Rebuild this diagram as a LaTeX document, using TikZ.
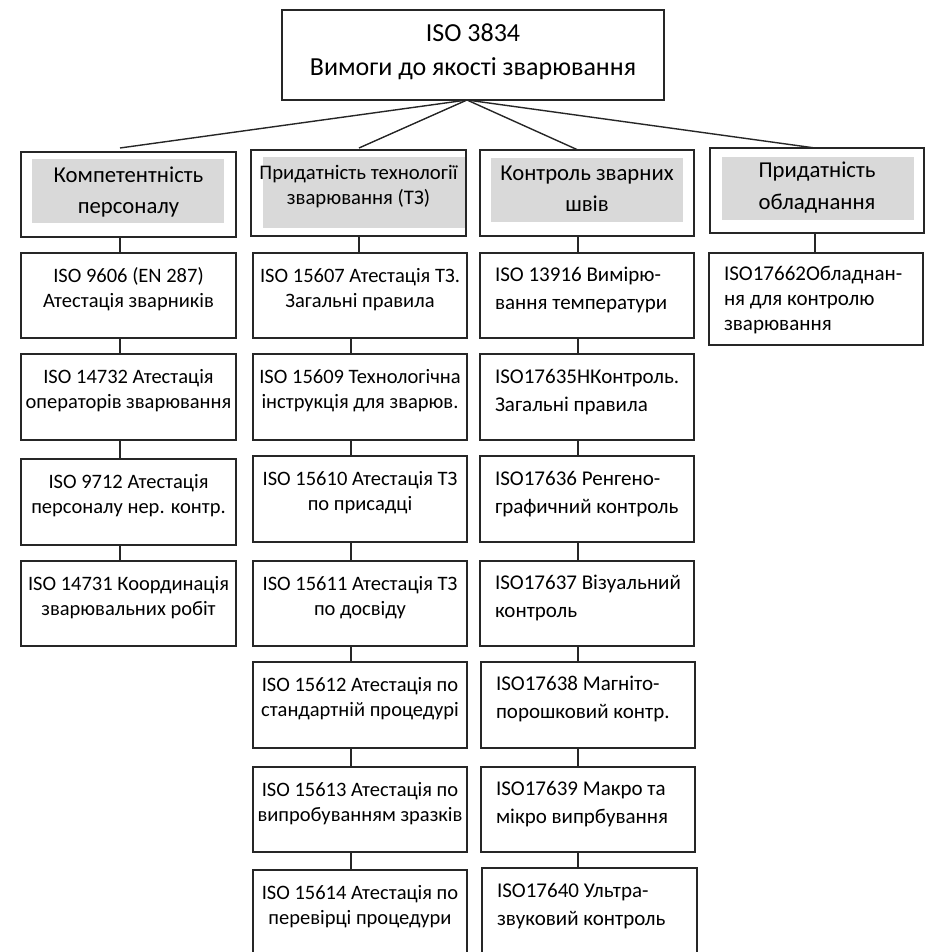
\documentclass[tikz,border=0pt]{standalone}
\usepackage{fontspec}
\setmainfont{Carlito}
\newcommand\bxt[7]{\parbox[c][#1pt][t]{#2pt}{\fontsize{#4}{#5}\selectfont#3\rule{0pt}{#6pt}#7}}
\newcommand\cc{\centering}
\newcommand\lf{\raggedright\leftskip=15pt\relax}
\tikzset{
  bx/.style={draw=black!85, line width=1.6pt, inner sep=0pt, outer sep=0pt, anchor=north west},
  conn/.style={draw=black!85, line width=1.4pt},
  graybg/.style={fill=black!15, draw=none}
}
\begin{document}
\begin{tikzpicture}[x=1pt,y=-1pt]
\useasboundingbox (0,0) rectangle (928,952);
\clip (0,0) rectangle (928,952);
% gray header backgrounds
\fill[graybg] (32,159) rectangle (224,223);
\fill[graybg] (263,157) rectangle (465,228);
\fill[graybg] (491,158) rectangle (683,222);
\fill[graybg] (722,157) rectangle (914,220);
% top
\node[bx] (top) at (282,10) {\bxt{90}{382}{\cc}{26}{34}{32}{ISO 3834\\Вимоги до якості зварювання}};
% headers
\node[bx] (h1) at (21,152) {\bxt{85}{215}{\cc}{22.7}{31}{30}{Компетентність\\персоналу}};
\node[bx] (h2) at (251,150) {\bxt{86}{215}{\cc}{20.7}{26}{29}{Придатність технології\\зварювання (ТЗ)}};
\node[bx] (h3) at (480,150) {\bxt{86}{214}{\cc}{22.7}{32}{30}{Контроль зварних\\швів}};
\node[bx] (h4) at (710,148) {\bxt{85}{214}{\cc}{22.7}{32}{30}{Придатність\\обладнання}};
% column 1
\node[bx] (a1) at (21,253) {\bxt{85}{215}{\cc}{20.5}{25}{29}{ISO 9606 (EN 287)\\Атестація зварників}};
\node[bx] (a2) at (21,354) {\bxt{86}{215}{\cc}{20.5}{25}{29}{ISO 14732 Атестація\\операторів зварювання}};
\node[bx] (a3) at (21,459) {\bxt{86}{215}{\cc}{20.5}{25}{29}{ISO 9712 Атестація\\персоналу нер. контр.}};
\node[bx] (a4) at (21,561) {\bxt{85}{215}{\cc}{20.5}{25}{29}{ISO 14731 Координація\\зварювальних робіт}};
% column 2
\node[bx] (b1) at (253,253) {\bxt{85}{214}{\cc}{20.5}{25}{29}{ISO 15607 Атестація ТЗ.\\Загальні правила}};
\node[bx] (b2) at (253,354) {\bxt{86}{214}{\cc}{20.5}{25}{29}{ISO 15609 Технологічна\\інструкція для зварюв.}};
\node[bx] (b3) at (253,456) {\bxt{86}{214}{\cc}{20.5}{25}{29}{ISO 15610 Атестація ТЗ\\по присадці}};
\node[bx] (b4) at (253,561) {\bxt{85}{214}{\cc}{20.5}{25}{29}{ISO 15611 Атестація ТЗ\\по досвіду}};
\node[bx] (b5) at (253,662) {\bxt{86}{214}{\cc}{20.5}{25}{29}{ISO 15612 Атестація по\\стандартній процедурі}};
\node[bx] (b6) at (253,767) {\bxt{85}{214}{\cc}{20.5}{25}{29}{ISO 15613 Атестація по\\випробуванням зразків}};
\node[bx] (b7) at (253,870) {\bxt{86}{214}{\cc}{20.5}{25}{29}{ISO 15614 Атестація по\\перевірці процедури}};
% column 3
\node[bx] (c1) at (480,253) {\bxt{85}{214}{\lf}{21}{28}{28}{ISO 13916 Вимірю-\\вання температури}};
\node[bx] (c2) at (480,354) {\bxt{86}{214}{\lf}{21}{28}{29}{ISO17635НКонтроль.\\Загальні правила}};
\node[bx] (c3) at (480,456) {\bxt{86}{214}{\lf}{21}{28}{29}{ISO17636 Ренгено-\\графичний контроль}};
\node[bx] (c4) at (480,561) {\bxt{85}{214}{\lf}{21}{28}{28}{ISO17637 Візуальний\\контроль}};
\node[bx] (c5) at (481,662) {\bxt{86}{214}{\lf}{21}{28}{28}{ISO17638 Магніто-\\порошковий контр.}};
\node[bx] (c6) at (481,767) {\bxt{85}{214}{\lf}{21}{28}{28}{ISO17639 Макро та\\мікро випрбування}};
\node[bx] (c7) at (482,868) {\bxt{86}{215}{\lf}{21}{28}{29}{ISO17640 Ультра-\\звуковий контроль}};
% column 4
\node[bx] (d1) at (709,253) {\bxt{92}{214}{\lf}{21}{25}{27}{ISO17662Обладнан-\\ня для контролю\\зварювання}};
% connector x positions
\coordinate (x1) at (120,0);
\coordinate (x2) at (351,0);
\coordinate (x2t) at (359,0);
\coordinate (x3) at (578,0);
\coordinate (x4) at (815,0);
% top fan
\draw[conn] ([xshift=-6pt]top.south) -- ([yshift=4pt]h1.north -| x1);
\draw[conn] ([xshift=-6pt]top.south) -- ([yshift=2pt]h2.north -| x2t);
\draw[conn] ([xshift=-6pt]top.south) -- (h3.north -| x3);
\draw[conn] ([xshift=-6pt]top.south) -- (h4.north -| x4);
% column 1
\draw[conn] (h1.south -| x1) -- (a1.north -| x1);
\draw[conn] (a1.south -| x1) -- (a2.north -| x1);
\draw[conn] (a2.south -| x1) -- (a3.north -| x1);
\draw[conn] (a3.south -| x1) -- (a4.north -| x1);
% column 2
\draw[conn] (h2.south -| x2t) -- (b1.north -| x2t);
\draw[conn] (b1.south -| x2) -- (b2.north -| x2);
\draw[conn] (b2.south -| x2) -- (b3.north -| x2);
\draw[conn] (b3.south -| x2) -- (b4.north -| x2);
\draw[conn] (b4.south -| x2) -- (b5.north -| x2);
\draw[conn] (b5.south -| x2) -- (b6.north -| x2);
\draw[conn] (b6.south -| x2) -- (b7.north -| x2);
% column 3
\draw[conn] (h3.south -| x3) -- (c1.north -| x3);
\draw[conn] (c1.south -| x3) -- (c2.north -| x3);
\draw[conn] (c2.south -| x3) -- (c3.north -| x3);
\draw[conn] (c3.south -| x3) -- (c4.north -| x3);
\draw[conn] (c4.south -| x3) -- (c5.north -| x3);
\draw[conn] (c5.south -| x3) -- (c6.north -| x3);
\draw[conn] (c6.south -| x3) -- (c7.north -| x3);
% column 4
\draw[conn] (h4.south -| x4) -- (d1.north -| x4);
\end{tikzpicture}
\end{document}
